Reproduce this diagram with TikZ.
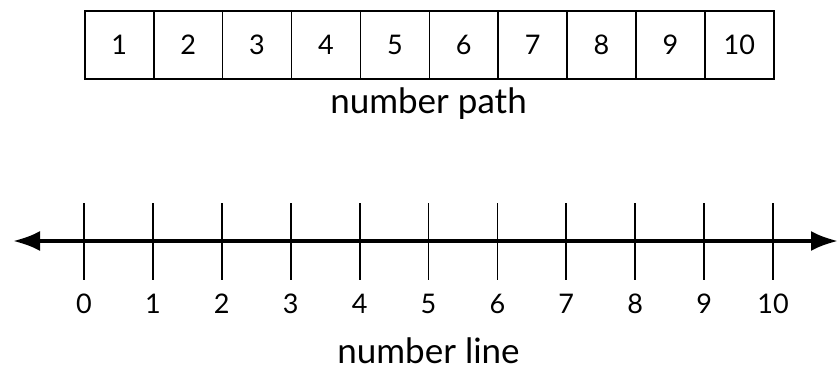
\documentclass[tikz,border=0pt]{standalone}
\usepackage{fontspec}
\setmainfont{Lato}
\usetikzlibrary{arrows.meta}

\begin{document}
\begin{tikzpicture}[
    x=0.5pt, y=-0.5pt,
    font=\fontsize{13.5}{16}\selectfont,
    cell/.style={draw, line width=0.8pt, minimum width=34.45pt, minimum height=34pt,
                 inner sep=0pt, anchor=north west},
    tickmark/.style={line width=0.9pt},
    caption/.style={font=\fontsize{17.5}{20}\selectfont},
]
\useasboundingbox (0,0) rectangle (838,369);

% Number path
\foreach \i in {1,...,10} {
    \node[cell] (box\i) at ({84+68.9*(\i-1)}, 10) {\i};
}
\node[caption] (pathlabel) at (428.5, 104) {number path};

% Number line
\coordinate (lineL) at (13, 241);
\coordinate (lineR) at (838, 241);
\draw[line width=1.9pt, {Latex[length=13.5pt, width=10pt]}-{Latex[length=13.5pt, width=10pt]}] (lineL) -- (lineR);

\foreach \i in {0,...,10} {
    \coordinate (tickT\i) at ({84+68.9*\i}, 203);
    \coordinate (tickB\i) at ({84+68.9*\i}, 280);
    \draw[tickmark] (tickT\i) -- (tickB\i);
    \node (num\i) at ({84+68.9*\i}, 304) {\i};
}
\node[caption] (linelabel) at (428.5, 351) {number line};

\end{tikzpicture}
\end{document}
